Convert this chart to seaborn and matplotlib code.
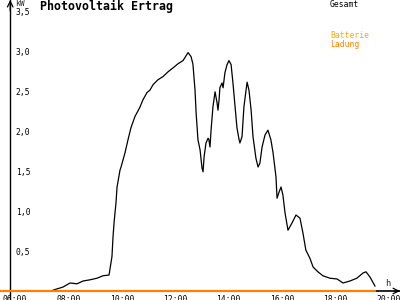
import matplotlib
matplotlib.use("Agg")
import matplotlib.pyplot as plt
import seaborn as sns

# PV output (Gesamt), hours of day vs kW
pv_hours = [7.42, 7.80, 8.06, 8.32, 8.55, 8.81, 9.07, 9.29, 9.52, 9.63, 9.67, 9.71,
            9.78, 9.82, 9.93, 9.97, 10.12, 10.23, 10.34, 10.49, 10.68, 10.79, 10.94,
            11.05, 11.17, 11.35, 11.54, 11.73, 11.92, 12.10, 12.29, 12.48, 12.59,
            12.66, 12.74, 12.78, 12.85, 12.93, 13.00, 13.04, 13.08, 13.15, 13.23,
            13.26, 13.30, 13.34, 13.41, 13.49, 13.56, 13.60, 13.64, 13.67, 13.75,
            13.79, 13.86, 13.94, 14.01, 14.09, 14.16, 14.24, 14.31, 14.39, 14.42,
            14.50, 14.57, 14.65, 14.69, 14.76, 14.84, 14.91, 15.02, 15.10, 15.17,
            15.25, 15.36, 15.47, 15.58, 15.66, 15.77, 15.81, 15.88, 15.96, 16.03,
            16.11, 16.22, 16.37, 16.52, 16.67, 16.78, 16.89, 17.04, 17.16, 17.34,
            17.53, 17.79, 18.06, 18.28, 18.54, 18.80, 19.03, 19.14, 19.29, 19.48]
pv_kw = [0.01, 0.05, 0.10, 0.09, 0.125, 0.14, 0.16, 0.19, 0.20, 0.43, 0.68, 0.86,
         1.10, 1.30, 1.51, 1.55, 1.73, 1.89, 2.04, 2.18, 2.30, 2.39, 2.48,
         2.51, 2.58, 2.64, 2.68, 2.74, 2.79, 2.84, 2.88, 2.98, 2.93,
         2.84, 2.51, 2.23, 1.89, 1.76, 1.54, 1.49, 1.68, 1.85, 1.91,
         1.89, 1.80, 2.01, 2.30, 2.49, 2.36, 2.26, 2.39, 2.54, 2.60,
         2.54, 2.73, 2.83, 2.88, 2.83, 2.60, 2.30, 2.04, 1.89, 1.85,
         1.93, 2.30, 2.51, 2.61, 2.51, 2.26, 1.93, 1.66, 1.55, 1.60,
         1.80, 1.95, 2.01, 1.89, 1.73, 1.43, 1.16, 1.23, 1.30, 1.20,
         0.975, 0.76, 0.85, 0.95, 0.91, 0.725, 0.51, 0.41, 0.30, 0.24,
         0.19, 0.16, 0.15, 0.10, 0.125, 0.16, 0.225, 0.24, 0.175, 0.06]

# Battery charge (Batterie Ladung)
charge_hours = [5.0, 19.48]
charge_kw = [0.0, 0.0]

x_ticks = [6, 8, 10, 12, 14, 16, 18, 20]
x_tick_labels = ["06:00", "08:00", "10:00", "12:00", "14:00", "16:00", "18:00", "20:00"]
y_ticks = [0.5, 1.0, 1.5, 2.0, 2.5, 3.0, 3.5]
y_tick_labels = ["0,5", "1,0", "1,5", "2,0", "2,5", "3,0", "3,5"]

sns.set_style("white")
plt.rcParams["font.family"] = ["DejaVu Sans Mono"]

fig = plt.figure(figsize=(4, 3), dpi=100)
ax = fig.add_axes([0, 0, 1, 1])
ax.set_facecolor("white")

sns.lineplot(x=pv_hours, y=pv_kw, ax=ax, color="black", linewidth=0.9,
             estimator=None, sort=False, zorder=3)
sns.lineplot(x=charge_hours, y=charge_kw, ax=ax, color="#ff8000", linewidth=1.6,
             estimator=None, sort=False, zorder=4)

ax.set_xlim(5.438, 20.414)
ax.set_ylim(-0.1125, 3.6375)

for s in ["top", "right"]:
    ax.spines[s].set_visible(False)
ax.spines["left"].set_position(("data", 5.82))
ax.spines["bottom"].set_position(("data", 0))
ax.spines["left"].set_linewidth(1.0)
ax.spines["bottom"].set_linewidth(1.2)
ax.spines["left"].set_color("black")
ax.spines["bottom"].set_color("black")

ax.set_xticks(x_ticks)
ax.set_xticklabels(x_tick_labels)
ax.set_yticks(y_ticks)
ax.set_yticklabels(y_tick_labels)
ax.tick_params(axis="both", direction="inout", length=4.5, width=0.9,
               colors="black", labelsize=5.8)
ax.tick_params(axis="x", pad=0.3)
ax.tick_params(axis="y", pad=-6.2)
for lab in ax.get_yticklabels():
    lab.set_horizontalalignment("left")

# axis arrows
ax.annotate("", xy=(20.414, 0), xytext=(20.2, 0),
            arrowprops=dict(arrowstyle="->", color="black", lw=0.9,
                            shrinkA=0, shrinkB=0), annotation_clip=False)
ax.annotate("", xy=(5.82, 3.6375), xytext=(5.82, 3.5),
            arrowprops=dict(arrowstyle="->", color="black", lw=0.9,
                            shrinkA=0, shrinkB=0), annotation_clip=False)

fig.text(40 / 400, 1 - 6.5 / 300, "Photovoltaik Ertrag", fontsize=8.4,
         fontweight="bold", va="center", ha="left", color="black")
fig.text(15 / 400, 1 - 3 / 300, "kW", fontsize=5.8, va="center", ha="left")
fig.text(385 / 400, 1 - 283 / 300, "h", fontsize=6.2, va="center", ha="left")
fig.text(330 / 400, 1 - 4.5 / 300, "Gesamt", fontsize=5.8, va="center",
         ha="left", color="black")
fig.text(330 / 400, 1 - 36 / 300, "Batterie", fontsize=5.8, va="center",
         ha="left", color="#ffaa00")
fig.text(330 / 400, 1 - 44 / 300, "Ladung", fontsize=5.8, va="center",
         ha="left", color="#ff8000")

fig.savefig("out.png", dpi=100, facecolor="white")
